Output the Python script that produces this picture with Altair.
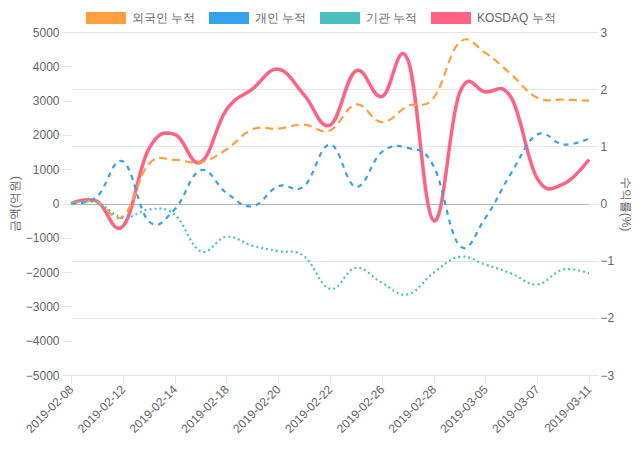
import altair as alt
import pandas as pd

dates = ["2019-02-08", "2019-02-11", "2019-02-12", "2019-02-13", "2019-02-14",
         "2019-02-15", "2019-02-18", "2019-02-19", "2019-02-20", "2019-02-21",
         "2019-02-22", "2019-02-25", "2019-02-26", "2019-02-27", "2019-02-28",
         "2019-03-04", "2019-03-05", "2019-03-06", "2019-03-07", "2019-03-08",
         "2019-03-11"]

foreign = [0, 50, -380, 1150, 1270, 1200, 1575, 2160, 2180, 2300, 2130,
           2890, 2370, 2840, 3080, 4700, 4390, 3760, 3080, 3030, 3000]
individual = [0, 200, 1230, -515, -175, 970, 310, -80, 505, 505, 1720,
              485, 1500, 1620, 1090, -1225, -420, 895, 2010, 1720, 1890]
institution = [0, 30, -420, -175, -320, -1390, -970, -1230, -1390, -1535, -2490,
               -1875, -2310, -2650, -2020, -1555, -1780, -2040, -2360, -1925, -2040]
kosdaq = [0, 0.04, -0.40, 0.95, 1.21, 0.72, 1.64, 2.0, 2.35, 1.9, 1.37,
          2.32, 1.87, 2.52, -0.30, 1.93, 1.95, 1.85, 0.44, 0.34, 0.77]

series_names = ["외국인 누적", "개인 누적", "기관 누적", "KOSDAQ 누적"]
colors = ["#ff9f40", "#36a2eb", "#4bc0c0", "#ff6384"]
left_ticks = [-5000, -4000, -3000, -2000, -1000, 0, 1000, 2000, 3000, 4000, 5000]
right_ticks = [-3, -2, -1, 0, 1, 2, 3]

FONT = "Helvetica Neue, Helvetica, Arial, sans-serif"
GRID = "#e6e6e6"
ZERO = "#b5b5b5"
TXT = "#666666"

rows = []
for name, vals in zip(series_names[:3], [foreign, individual, institution]):
    for d, v in zip(dates, vals):
        rows.append({"date": d, "value": v, "series": name})
flows = pd.DataFrame(rows)
kdf = pd.DataFrame({"date": dates, "value": kosdaq, "series": series_names[3]})

color_scale = alt.Scale(domain=series_names, range=colors)

x_enc = alt.X(
    "date:O", sort=dates, title=None,
    scale=alt.Scale(type="point", padding=0),
    axis=alt.Axis(values=dates[::2], labelAngle=-45, labelAlign="right",
                  labelBaseline="middle", labelFontSize=12, labelColor=TXT,
                  labelFont=FONT, tickSize=8, tickColor=GRID, gridColor=GRID,
                  domainColor=GRID, labelPadding=4, labelOverlap=False),
)

legend = alt.Legend(
    orient="none", legendX=22, legendY=-27, direction="horizontal", title=None,
    symbolType="M-3,0H3", symbolSize=178, symbolStrokeWidth=12,
    labelFontSize=12, labelColor=TXT, labelFont=FONT, labelOffset=13,
    columnPadding=-12, symbolOpacity=1,
)

kos_layer = alt.Chart(kdf).mark_line(
    interpolate="cardinal", tension=-0.2, strokeWidth=3.5
).encode(
    x=x_enc,
    y=alt.Y("value:Q", scale=alt.Scale(domain=[-3, 3], nice=False),
            axis=alt.Axis(orient="right", title="수익률(%)", values=right_ticks,
                          tickSize=9, tickColor=GRID, domain=False,
                          gridColor=alt.condition("datum.value === 0", alt.value(ZERO), alt.value(GRID)),
                          labelFontSize=12, labelColor=TXT, labelFont=FONT,
                          titleFontSize=12, titleColor=TXT, titleFont=FONT,
                          titleFontWeight="normal", labelPadding=2, titlePadding=5)),
    color=alt.Color("series:N", scale=color_scale, legend=legend),
)

flow_layer = alt.Chart(flows).mark_line(
    interpolate="cardinal", tension=-0.2
).encode(
    x=x_enc,
    y=alt.Y("value:Q", scale=alt.Scale(domain=[-5000, 5000], nice=False),
            axis=alt.Axis(orient="left", title="금액(억원)", values=left_ticks,
                          format="d",
                          tickSize=10, tickColor=GRID, domain=False,
                          gridColor=alt.condition("datum.value === 0", alt.value(ZERO), alt.value(GRID)),
                          labelFontSize=12, labelColor=TXT, labelFont=FONT,
                          titleFontSize=12, titleColor=TXT, titleFont=FONT,
                          titleFontWeight="normal", labelPadding=2, titlePadding=4)),
    color=alt.Color("series:N", scale=color_scale, legend=legend),
    strokeDash=alt.StrokeDash("series:N", scale=alt.Scale(domain=series_names[:3],
                              range=[[8, 5], [5, 5], [2, 3]]), legend=None),
    strokeWidth=alt.StrokeWidth("series:N", scale=alt.Scale(domain=series_names[:3],
                                range=[2.2, 2.2, 2.6]), legend=None),
)

chart = alt.layer(kos_layer, flow_layer).resolve_scale(
    y="independent"
).properties(
    width=624, height=434,
    autosize=alt.AutoSizeParams(type="fit", contains="padding"),
    padding={"left": 0, "top": 18, "right": 0, "bottom": 7},
    background="white"
).configure_view(stroke=None)

chart.save("out.html", embed_options={"renderer": "svg", "actions": False})
